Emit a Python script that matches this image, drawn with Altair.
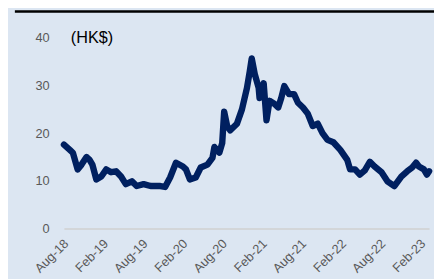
import altair as alt
import pandas as pd

dates = [
    "2018-07-23", "2018-08-19", "2018-09-02", "2018-09-24", "2018-10-12", "2018-11-04",
    "2018-11-18", "2018-12-01", "2018-12-19", "2019-01-11", "2019-02-03", "2019-02-25",
    "2019-03-20", "2019-04-12", "2019-05-04", "2019-06-01", "2019-06-23", "2019-07-25",
    "2019-08-26", "2019-10-10", "2019-11-01", "2019-11-24", "2019-12-21", "2020-01-22",
    "2020-02-05", "2020-02-23", "2020-03-21", "2020-04-13", "2020-05-14", "2020-06-06",
    "2020-06-15", "2020-07-08", "2020-07-21", "2020-07-30", "2020-08-13", "2020-08-27",
    "2020-09-27", "2020-10-20", "2020-11-12", "2020-11-25", "2020-12-04", "2020-12-18",
    "2021-01-05", "2021-01-09", "2021-01-28", "2021-02-10", "2021-02-24", "2021-03-18",
    "2021-04-05", "2021-04-19", "2021-05-03", "2021-05-25", "2021-06-17", "2021-07-05",
    "2021-07-28", "2021-08-19", "2021-09-11", "2021-10-04", "2021-10-26", "2021-11-18",
    "2021-12-15", "2022-01-16", "2022-02-17", "2022-03-02", "2022-03-25", "2022-04-16",
    "2022-05-09", "2022-06-01", "2022-06-23", "2022-07-25", "2022-08-21", "2022-09-22",
    "2022-10-24", "2022-11-20", "2022-12-13", "2022-12-31", "2023-01-13", "2023-02-05",
    "2023-02-19", "2023-03-01",
]
prices = [
    17.6, 16.5, 15.9, 12.4, 13.4, 15.0,
    14.4, 13.4, 10.3, 10.9, 12.4, 11.8,
    12.0, 10.9, 9.3, 9.9, 8.9, 9.3,
    8.9, 8.9, 8.7, 10.7, 13.8, 13.0,
    12.4, 10.3, 10.7, 12.8, 13.4, 14.8,
    17.1, 15.9, 17.9, 24.5, 21.5, 20.6,
    22.0, 25.0, 29.5, 33.0, 35.7, 32.4,
    29.5, 27.4, 30.5, 22.7, 26.8, 26.2,
    25.4, 27.4, 29.9, 28.2, 28.2, 26.4,
    25.4, 24.1, 21.5, 22.0, 20.0, 18.6,
    18.1, 16.5, 14.4, 12.4, 12.4, 11.3,
    12.2, 14.0, 13.0, 11.8, 9.9, 8.9,
    10.9, 12.0, 12.8, 13.8, 13.0, 12.4,
    11.3, 12.0,
]
tick_dates = ["2018-08-01", "2019-02-01", "2019-08-01", "2020-02-01", "2020-08-01",
              "2021-02-01", "2021-08-01", "2022-02-01", "2022-08-01", "2023-02-01"]
y_ticks = [0, 10, 20, 30, 40]
unit_label = "(HK$)"

df = pd.DataFrame({"date": pd.to_datetime(dates), "price": prices})

FONT = "Liberation Sans"
x_scale = alt.Scale(domain=["2018-07-23", "2023-03-01"])
y_scale = alt.Scale(domain=[0, 40], nice=False)

line = alt.Chart(df).mark_line(
    color="#002060", strokeWidth=6.5, strokeJoin="round", strokeCap="round"
).encode(
    x=alt.X("date:T", scale=x_scale,
            axis=alt.Axis(values=[pd.Timestamp(d).isoformat() for d in tick_dates],
                          format="%b-%y", labelAngle=-45, labelAlign="right",
                          labelBaseline="middle", labelPadding=13, labelFontSize=13,
                          labelColor="#595959", labelFont=FONT, ticks=False,
                          domain=True, domainColor="#D0D0D0", domainWidth=1.5,
                          grid=False, title=None, labelOverlap=False)),
    y=alt.Y("price:Q", scale=y_scale,
            axis=alt.Axis(values=y_ticks, labelPadding=15, labelFontSize=13,
                          labelColor="#595959", labelFont=FONT, ticks=False,
                          domain=False, grid=False, title=None)),
)

unit = alt.Chart(pd.DataFrame({"t": [unit_label]})).mark_text(
    align="left", baseline="middle", fontSize=16.5, font=FONT, color="#000000"
).encode(text="t:N", x=alt.value(7), y=alt.value(0))

top_rule = alt.Chart(pd.DataFrame({"a": [0]})).mark_rule(
    color="#000000", strokeWidth=2.5
).encode(x=alt.value(-50), x2=alt.value(380), y=alt.value(-27))

chart = alt.layer(line, unit, top_rule).properties(
    width=372, height=194,
    autosize=alt.AutoSizeParams(type="none"),
    padding={"left": 57, "top": 28, "right": 5, "bottom": 49},
    background="#DCE6F2",
).configure_view(stroke=None)

chart.save("out.html", embed_options={"renderer": "svg", "actions": False})
